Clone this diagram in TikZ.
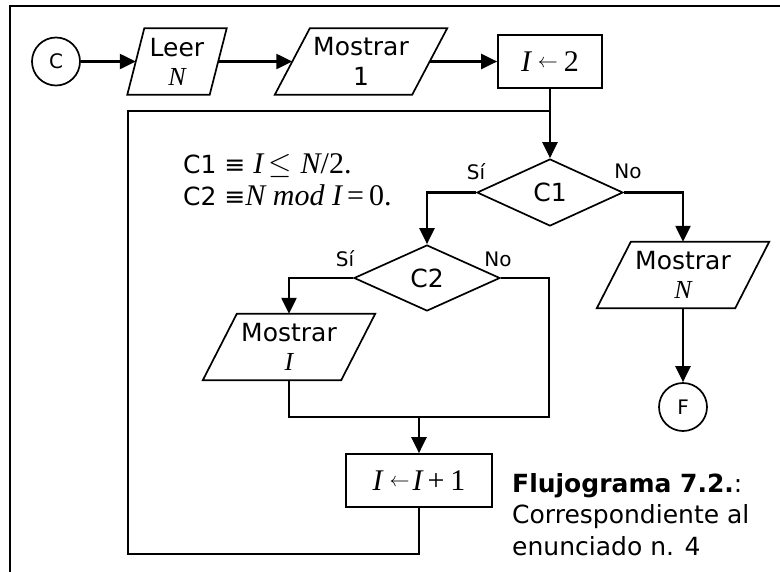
\RequirePackage{fix-cm}
\documentclass[tikz,border=0pt]{standalone}
\usepackage{fontspec}
\setmainfont{DejaVu Sans}
\newfontfamily\mathfnt{Liberation Serif}
\newcommand\xvi[2][30]{{\mathfnt\fontsize{#1}{30}\selectfont\itshape #2}}
\newcommand\xvr[2][30]{{\mathfnt\fontsize{#1}{30}\selectfont #2}}
\newcommand\xarr{\raisebox{4pt}{\fontsize{20}{20}\selectfont$\leftarrow$}}
\newcommand\xleq{{\fontsize{30}{30}\selectfont$\leq$}}
\usetikzlibrary{arrows.meta,shapes.geometric,calc}
\tikzset{
  conn/.style={line width=2.4pt, -{Triangle[length=16pt,width=15pt]}},
  plain/.style={line width=2.4pt},
  shp/.style={line width=1.7pt},
  big/.style={font=\fontsize{25}{30}\selectfont, inner sep=0pt},
  txt/.style={big, align=center},
  small/.style={font=\fontsize{20}{24}\selectfont, inner sep=0pt},
  term/.style={circle, draw, shp, minimum size=48pt, inner sep=0pt, font=\fontsize{20}{24}\selectfont},
  proc/.style={rectangle, draw, shp, inner sep=0pt, big},
  dec/.style={diamond, draw, shp, inner sep=0pt, big},
  io/.style={rectangle, inner sep=0pt, txt, minimum height=66pt}
}
\begin{document}
\begin{tikzpicture}[x=1pt,y=-1pt]
\useasboundingbox (0,0) rectangle (780,571);
% outer frame (clipped at right and bottom)
\draw[line width=2.4pt] (10,575) -- (10,6) -- (785,6);

% nodes
\node[term] (C) at (56,61.5) {C};
\node[io, minimum width=82pt] (leer) at (177,61.5) {Leer\\[-1pt]\xvi[26]{N}};
\node[io, minimum width=137pt] (m1) at (361,61.5) {Mostrar\\1};
\node[proc, minimum width=104pt, minimum height=53pt] (i2) at (550,61.5) {\xvi{I}\hspace{7pt}\xarr\hspace{6pt}\xvr{2}};
\node[dec, minimum width=146pt, minimum height=67pt] (c1) at (550,192.5) {C1};
\node[dec, minimum width=146pt, minimum height=66pt] (c2) at (427,278) {C2};
\node[io, minimum width=138pt] (mI) at (289,347) {Mostrar\\[-1pt]\xvi[26]{I}};
\node[io, minimum width=138pt] (mN) at (683,275) {Mostrar\\[-1pt]\xvi[26]{N}};
\node[term] (F) at (683,407) {F};
\node[proc, minimum width=146pt, minimum height=53pt] (inc) at (419,480.5) {\xvi{I}\hspace{7pt}\xarr\hspace{3pt}\xvi{I}\hspace{5pt}\xvr{+}\hspace{6pt}\xvr{1}};

% parallelogram outlines
\foreach \n/\s in {leer/17, m1/35, mI/34, mN/34}
  \draw[shp] ($(\n.south west)+(-\s/2,0)$) -- ($(\n.north west)+(\s/2,0)$)
     -- ($(\n.north east)+(\s/2,0)$) -- ($(\n.south east)+(-\s/2,0)$) -- cycle;

% branch labels
\node[small] (si1) at (476,171.5) {Sí};
\node[small] (no1) at (628,171.5) {No};
\node[small] (si2) at (345,259) {Sí};
\node[small] (no2) at (498,259) {No};

% definitions
\node[big, anchor=base west] (d1) at (183,173) {C1 ≡ \xvi{I}\hspace{5pt}\xleq\hspace{9pt}\xvi{N}\xvr{/2.}};
\node[big, anchor=base west] (d2) at (183,205) {C2 ≡\xvi{N mod I}\hspace{5pt}\xvr{=}\hspace{5pt}\xvr{0.}};

% caption
\node[big, anchor=base west] (cap1) at (512,492) {\textbf{Flujograma 7.2.}:};
\node[big, anchor=base west] (cap2) at (512,523) {Correspondiente al};
\node[big, anchor=base west] (cap3) at (512,555) {enunciado n. 4};

% coordinates
\coordinate (j1) at (550,111);
\coordinate (lb) at (419,554);
\coordinate (ll) at (128,554);
\coordinate (lt) at (128,111);
\coordinate (nr) at (549,278);
\coordinate (br) at (549,417);
\coordinate (bl) at (289,417);
\coordinate (bj) at (419,417);

% connectors
\draw[conn] (C) -- (leer.west);
\draw[conn] (leer.east) -- (m1.west);
\draw[conn] (m1.east) -- (i2.west);
\draw[conn] (i2.south) -- (c1.north);
\draw[conn] (c1.west) -| (c2.north);
\draw[conn] (c1.east) -| (mN.north);
\draw[conn] (c2.west) -| (mI.north);
\draw[conn] (mN.south) -- (F.north);
\draw[plain] (c2.east) -- (nr) -- (br) -- (bl) -- (mI.south);
\draw[conn] (bj) -- (inc.north);
\draw[plain] (inc.south) -- (lb) -- (ll) -- (lt) -- (j1);
\end{tikzpicture}
\end{document}
